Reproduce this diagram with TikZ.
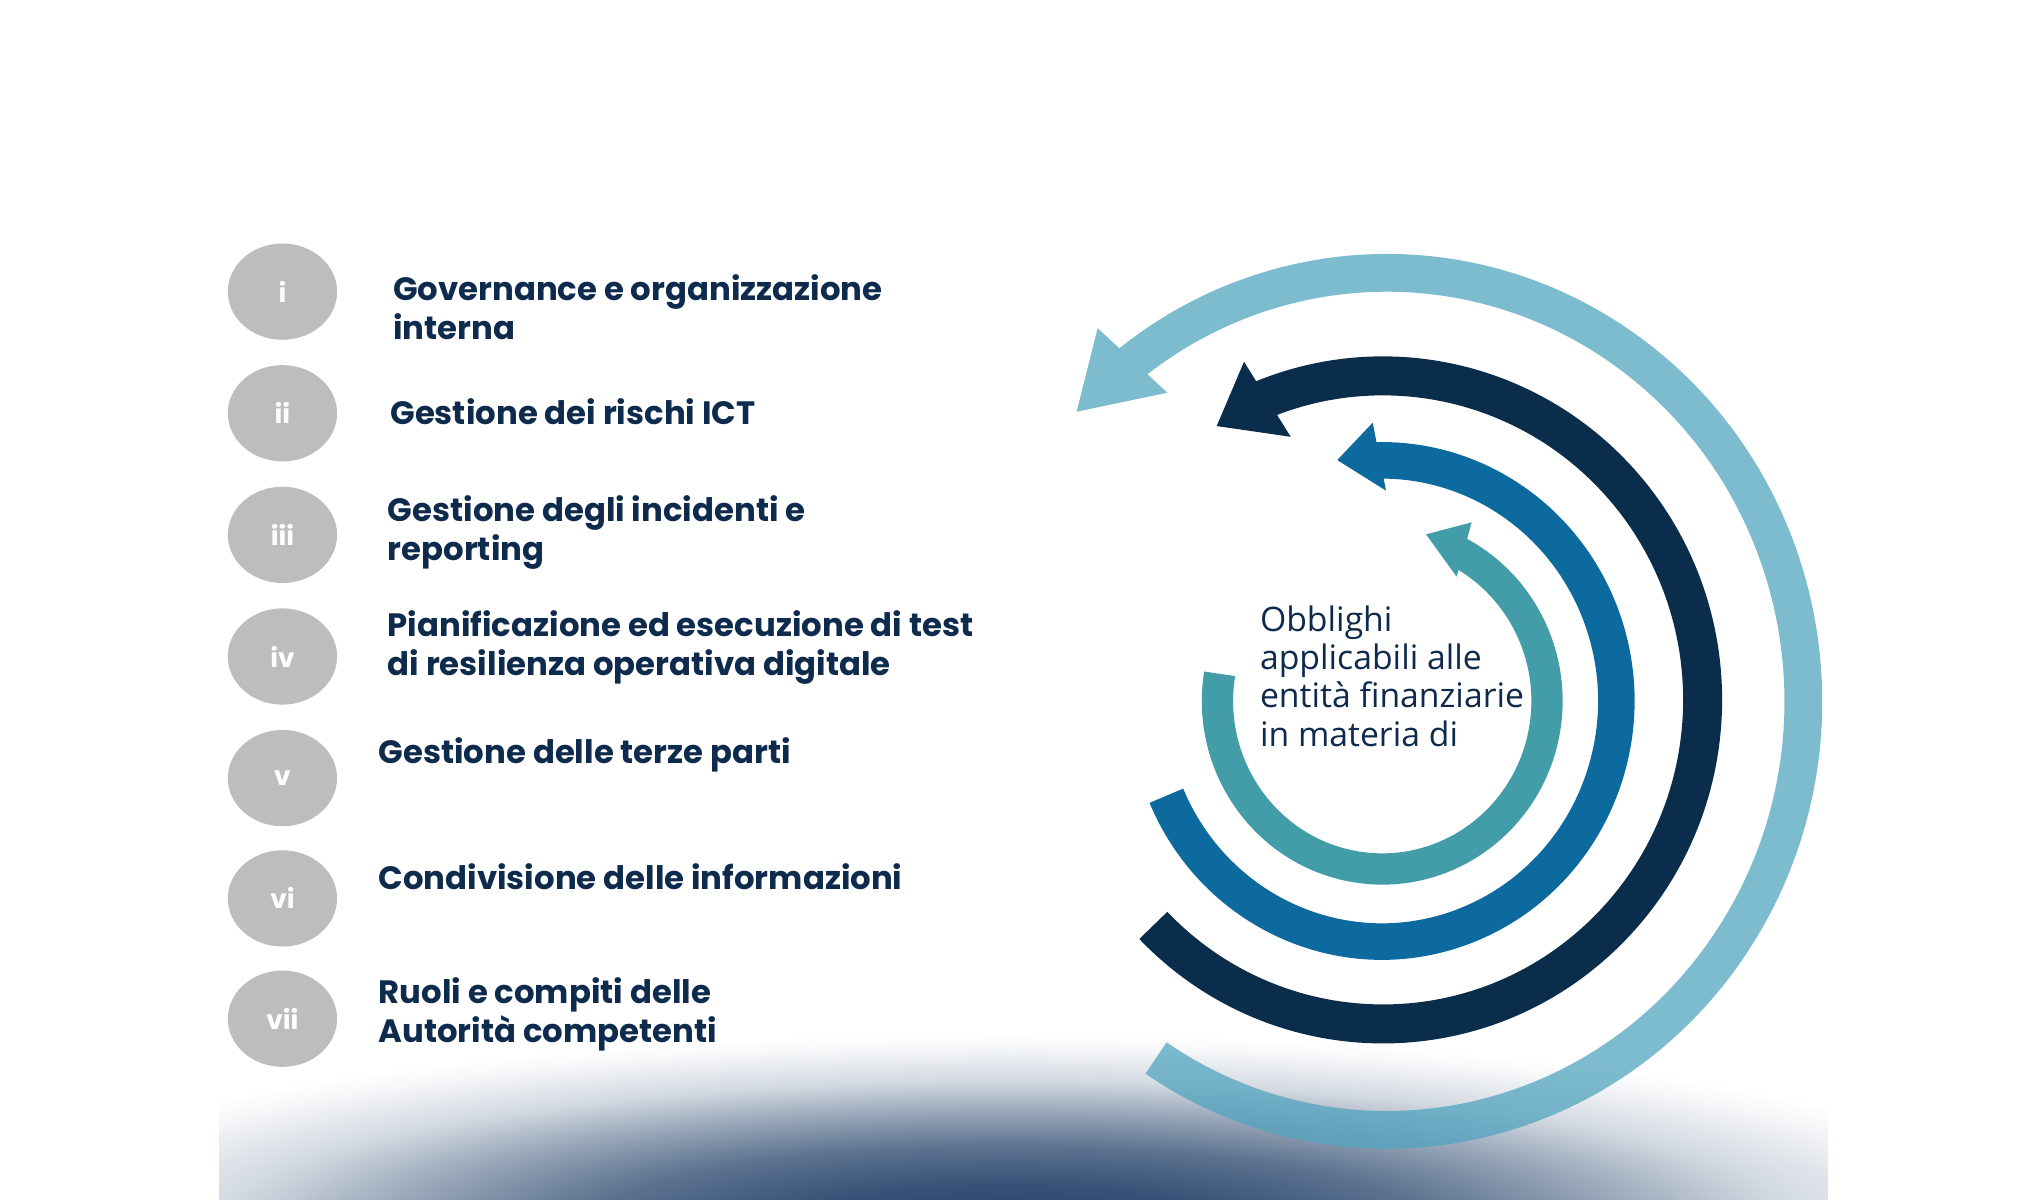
\documentclass[tikz,border=0pt]{standalone}
\usepackage{fontspec}
\setmainfont{Poppins}
\newfontfamily\centrefont{Open Sans}
\usepackage{tikz}
\usetikzlibrary{positioning,shapes.geometric}

\definecolor{itemnavy}{HTML}{0E2B4D}
\definecolor{badgegray}{HTML}{BDBDBD}
\definecolor{lightarc}{HTML}{7DBBCF}
\definecolor{lightarcdeep}{HTML}{52A4BF}
\definecolor{darkarc}{HTML}{0B2D4C}
\definecolor{midarc}{HTML}{0D6A9E}
\definecolor{tealarc}{HTML}{439DA8}
\definecolor{glownavy}{HTML}{25436A}

\pgfdeclareradialshading{bottomglow}{\pgfpoint{0bp}{0bp}}{%
  color(0bp)=(glownavy); color(5bp)=(glownavy!92!white);
  color(10bp)=(glownavy!75!white); color(14.5bp)=(glownavy!48!white);
  color(18.75bp)=(glownavy!20!white); color(23.25bp)=(glownavy!4!white);
  color(25bp)=(white); color(50bp)=(white)}

\begin{document}
\begin{tikzpicture}[x=0.013077cm, y=-0.013077cm,
    badge/.style={ellipse, fill=badgegray, minimum width=31.1pt, minimum height=27.4pt,
      inner sep=0pt, text=white, font=\bfseries\fontsize{7.5}{8}\selectfont},
    itemtext/.style={anchor=west, align=left, inner sep=0pt, text=itemnavy,
      font=\bfseries\fontsize{9.2}{11.1}\selectfont},
    centretext/.style={anchor=west, align=left, inner sep=0pt, text=itemnavy,
      font=\centrefont\fontsize{9.6}{10.9}\selectfont}]

    \useasboundingbox (0,0) rectangle (1560,917.6);

    % Background glow
    \begin{scope}
        \clip (168,735) rectangle (1398,917.6);
        \shade[shading=bottomglow] (770,935) ellipse [x radius=800, y radius=145];
    \end{scope}

    % Badges
    \node (b1) [badge] at (216,223) {i};
    \node (b2) [badge] at (216,316) {ii};
    \node (b3) [badge] at (216,409) {iii};
    \node (b4) [badge] at (216,502) {iv};
    \node (b5) [badge] at (216,595) {v};
    \node (b6) [badge] at (216,687) {vi};
    \node (b7) [badge] at (216,779) {vii};

    % Item texts
    \node (t1) [itemtext] at (300,235) {Governance e organizzazione\\interna};
    \node (t2) [itemtext] at (298,315) {Gestione dei rischi ICT};
    \node (t3) [itemtext] at (296,407) {Gestione degli incidenti e\\reporting};
    \node (t4) [itemtext] at (296,495) {Pianificazione ed esecuzione di test\\di resilienza operativa digitale};
    \node (t5) [itemtext] at (289,577) {Gestione delle terze parti};
    \node (t6) [itemtext] at (289,670) {Condivisione delle informazioni};
    \node (t7) [itemtext] at (289,776) {Ruoli e compiti delle\\Autorità competenti};

    % Spiral arrows (arc centres)
    \coordinate (lightc) at (1060.5,536.3);
    \coordinate (darkc) at (1057.5,535.2);
    \coordinate (midc) at (1056.7,536);
    \coordinate (tealc) at (1057,536);

    \begin{scope}[shift={(lightc)}, yscale=-1]
        \draw[lightarcdeep, opacity=0.75, line width=10.75pt] (-123.65:318.5 and 327.7)
            arc[start angle=-123.65, end angle=128.9, x radius=318.5, y radius=327.7];
    \end{scope}
    \fill[lightarc] (823.3,314.8) -- (839.4,251) -- (892.7,300.3) -- cycle;

    \begin{scope}[shift={(darkc)}, yscale=-1]
        \draw[darkarc, line width=11.1pt] (-135.9:244.5 and 247.8)
            arc[start angle=-135.9, end angle=112.7, x radius=244.5, y radius=247.8];
    \end{scope}
    \fill[darkarc] (930.4,325.8) -- (951.3,276.6) -- (987,334) -- cycle;

    \begin{scope}[shift={(midc)}, yscale=-1]
        \draw[midarc, line width=10.4pt] (-156.8:179.3 and 184)
            arc[start angle=-156.8, end angle=92.2, x radius=179.3, y radius=184];
    \end{scope}
    \fill[midarc] (1022.6,351.8) -- (1049.7,323.2) -- (1059.9,375.2) -- cycle;

    \begin{scope}[shift={(tealc)}, yscale=-1]
        \draw[tealarc, line width=8.9pt] (-189.3:126 and 128.5)
            arc[start angle=-189.3, end angle=62.5, x radius=126, y radius=128.5];
    \end{scope}
    \fill[tealarc] (1090.5,408.6) -- (1125.4,399.4) -- (1113.9,441) -- cycle;

    % Centre text
    \node (centre) [centretext] at (963,517) {Obblighi\\applicabili alle\\entità finanziarie\\in materia di};

\end{tikzpicture}
\end{document}
